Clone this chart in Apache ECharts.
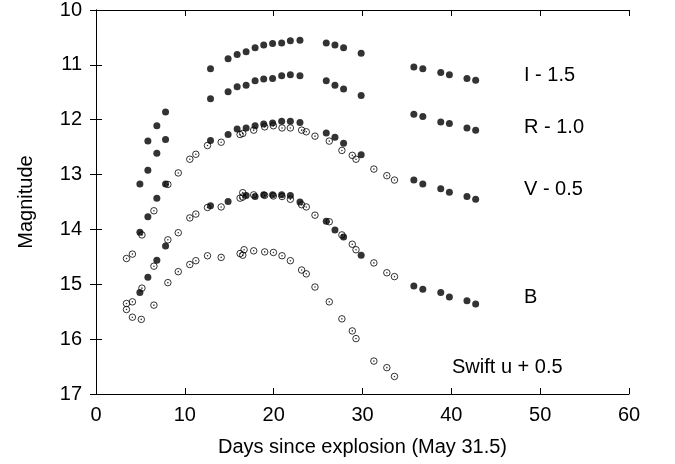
<!DOCTYPE html>
<html>
<head>
<meta charset="utf-8">
<script src="https://cdn.jsdelivr.net/npm/echarts@6/dist/echarts.min.js"></script>
<style>
html,body{margin:0;padding:0;background:#fff;}
#main{width:675px;height:464px;}
</style>
</head>
<body>
<div id="main"></div>
<script>
// Filled-point photometry (days since explosion, magnitude with offsets)
var iDays = [5.84, 6.85, 7.83, 12.89, 14.87, 15.89, 16.90, 17.91, 18.88, 19.88, 20.90, 21.88, 22.96, 25.92, 26.90, 27.87, 29.85, 35.78, 36.79, 38.81, 39.78, 41.76, 42.74];
var iMag  = [12.39, 12.11, 11.86, 11.07, 10.89, 10.81, 10.76, 10.69, 10.64, 10.61, 10.60, 10.56, 10.55, 10.60, 10.64, 10.69, 10.79, 11.04, 11.07, 11.14, 11.18, 11.25, 11.28];

var rDays = [4.94, 5.84, 6.85, 7.83, 12.89, 14.87, 15.89, 16.90, 17.91, 18.88, 19.88, 20.90, 21.88, 22.96, 25.92, 26.90, 27.87, 29.85, 35.78, 36.79, 38.81, 39.78, 41.76, 42.74];
var rMag  = [13.17, 12.92, 12.61, 12.36, 11.62, 11.49, 11.40, 11.37, 11.29, 11.26, 11.25, 11.20, 11.18, 11.20, 11.29, 11.37, 11.44, 11.56, 11.90, 11.94, 12.04, 12.07, 12.15, 12.19];

var vDays = [4.94, 5.84, 6.85, 7.83, 12.89, 14.87, 15.89, 16.90, 17.91, 18.88, 19.88, 20.90, 21.88, 22.96, 25.92, 26.90, 27.87, 29.85, 35.78, 36.79, 38.81, 39.78, 41.76, 42.74];
var vMag  = [14.05, 13.77, 13.43, 13.17, 12.38, 12.27, 12.17, 12.15, 12.11, 12.08, 12.06, 12.03, 12.03, 12.05, 12.24, 12.32, 12.43, 12.64, 13.10, 13.17, 13.26, 13.32, 13.40, 13.45];

var bDays = [4.94, 5.84, 6.85, 7.83, 12.89, 14.87, 16.90, 17.91, 18.88, 19.88, 20.90, 21.88, 22.96, 25.92, 26.90, 27.87, 29.85, 35.78, 36.79, 38.81, 39.78, 41.76, 42.74];
var bMag  = [15.15, 14.87, 14.56, 14.30, 13.57, 13.49, 13.38, 13.40, 13.37, 13.37, 13.37, 13.38, 13.50, 13.85, 14.01, 14.14, 14.47, 15.03, 15.09, 15.15, 15.23, 15.30, 15.36];

// Swift UVOT open-circle photometry
var swiftVDays = [3.43, 4.10, 5.17, 6.52, 8.09, 9.26, 10.56, 11.24, 12.55, 14.09, 16.22, 16.52, 17.75, 18.99, 19.97, 20.94, 21.88, 23.15, 23.67, 24.65, 26.26, 27.68, 28.85, 29.27, 31.28, 32.74, 33.60];
var swiftVMag  = [14.53, 14.45, 14.10, 13.66, 13.18, 12.97, 12.72, 12.63, 12.47, 12.41, 12.27, 12.25, 12.19, 12.13, 12.11, 12.15, 12.15, 12.19, 12.22, 12.30, 12.39, 12.56, 12.65, 12.72, 12.90, 13.02, 13.10];

var swiftBDays = [3.43, 4.10, 5.17, 6.52, 8.09, 9.26, 10.56, 11.24, 12.55, 14.09, 16.22, 16.52, 16.52, 17.75, 18.99, 19.97, 20.94, 21.88, 23.15, 23.67, 24.65, 26.26, 27.68, 28.85, 29.27, 31.28, 32.74, 33.60];
var swiftBMag  = [15.35, 15.32, 15.07, 14.67, 14.19, 14.06, 13.79, 13.72, 13.60, 13.59, 13.43, 13.41, 13.33, 13.37, 13.38, 13.39, 13.40, 13.45, 13.55, 13.59, 13.74, 13.86, 14.10, 14.27, 14.37, 14.61, 14.79, 14.86];

var swiftUDays = [3.43, 4.10, 5.10, 6.52, 8.09, 9.26, 10.56, 11.24, 12.55, 14.09, 16.22, 16.52, 16.67, 17.75, 18.99, 19.97, 20.94, 21.88, 23.15, 23.67, 24.65, 26.26, 27.68, 28.85, 29.27, 31.28, 32.74, 33.60];
var swiftUMag  = [15.46, 15.60, 15.64, 15.38, 14.97, 14.77, 14.64, 14.57, 14.48, 14.51, 14.44, 14.47, 14.37, 14.39, 14.41, 14.42, 14.48, 14.57, 14.74, 14.81, 15.05, 15.32, 15.63, 15.85, 15.99, 16.40, 16.52, 16.68];

var xTicks = [0, 10, 20, 30, 40, 50, 60];
var yTicks = [10, 11, 12, 13, 14, 15, 16, 17];

var curveLabels = ['I - 1.5', 'R - 1.0', 'V - 0.5', 'B', 'Swift u + 0.5'];

function pairs(xs, ys) { return xs.map(function (x, i) { return [x, ys[i]]; }); }

var FONT = '"Liberation Sans", Arial, Helvetica, sans-serif';
var FS = 20;

function filled(name, xs, ys) {
  return { name: name, type: 'scatter', data: pairs(xs, ys), symbol: 'circle', symbolSize: 7,
    itemStyle: { color: '#000' }, silent: true, z: 3 };
}
function openRing(name, xs, ys) {
  return { name: name, type: 'scatter', data: pairs(xs, ys), symbol: 'circle', symbolSize: 6.5,
    itemStyle: { color: 'rgba(255,255,255,0)', borderColor: '#000', borderWidth: 1 }, silent: true, z: 4 };
}
function openDot(name, xs, ys) {
  return { name: name + ' dot', type: 'scatter', data: pairs(xs, ys), symbol: 'circle', symbolSize: 1.6,
    itemStyle: { color: '#000' }, silent: true, z: 5 };
}
function label(text, left, top) {
  return { type: 'text', left: left, top: top, silent: true,
    style: { text: text, fill: '#000', font: FS + 'px ' + FONT } };
}

var chart = echarts.init(document.getElementById('main'), null, { renderer: 'canvas' });

var axisLine = { show: true, lineStyle: { color: '#000', width: 1 } };
var tickIn = { show: true, inside: true, length: 6, lineStyle: { color: '#000', width: 1 } };

chart.setOption({
  backgroundColor: '#fff',
  animation: false,
  textStyle: { fontFamily: FONT },
  grid: { left: 96, right: 46, top: 10, bottom: 70, containLabel: false },
  xAxis: [
    { type: 'value', min: xTicks[0], max: xTicks[xTicks.length - 1], interval: 10,
      name: 'Days since explosion (May 31.5)', nameLocation: 'middle', nameGap: 43,
      nameTextStyle: { color: '#000', fontSize: FS, fontFamily: FONT },
      axisLine: axisLine, axisTick: tickIn, splitLine: { show: false },
      axisLabel: { color: '#000', fontSize: FS, fontFamily: FONT, margin: 11 } },
    { type: 'value', position: 'top', min: xTicks[0], max: xTicks[xTicks.length - 1], interval: 10,
      axisLine: axisLine, axisTick: tickIn, splitLine: { show: false }, axisLabel: { show: false } }
  ],
  yAxis: [
    { type: 'value', inverse: true, min: yTicks[0], max: yTicks[yTicks.length - 1], interval: 1,
      name: 'Magnitude', nameLocation: 'middle', nameGap: 60, nameRotate: 90,
      nameTextStyle: { color: '#000', fontSize: FS, fontFamily: FONT },
      axisLine: axisLine, axisTick: tickIn, splitLine: { show: false },
      axisLabel: { color: '#000', fontSize: FS, fontFamily: FONT, margin: 14 } },
    { type: 'value', position: 'right', inverse: true, min: yTicks[0], max: yTicks[yTicks.length - 1], interval: 1,
      axisLine: axisLine, axisTick: tickIn, splitLine: { show: false }, axisLabel: { show: false } }
  ],
  graphic: [
    label(curveLabels[0], 524, 65),
    label(curveLabels[1], 524, 117),
    label(curveLabels[2], 524, 179),
    label(curveLabels[3], 524, 287),
    label(curveLabels[4], 452, 357)
  ],
  series: [
    filled('I - 1.5', iDays, iMag),
    filled('R - 1.0', rDays, rMag),
    filled('V - 0.5', vDays, vMag),
    filled('B', bDays, bMag),
    openRing('Swift v', swiftVDays, swiftVMag),
    openDot('Swift v', swiftVDays, swiftVMag),
    openRing('Swift b', swiftBDays, swiftBMag),
    openDot('Swift b', swiftBDays, swiftBMag),
    openRing('Swift u + 0.5', swiftUDays, swiftUMag),
    openDot('Swift u + 0.5', swiftUDays, swiftUMag)
  ]
});
</script>
</body>
</html>
